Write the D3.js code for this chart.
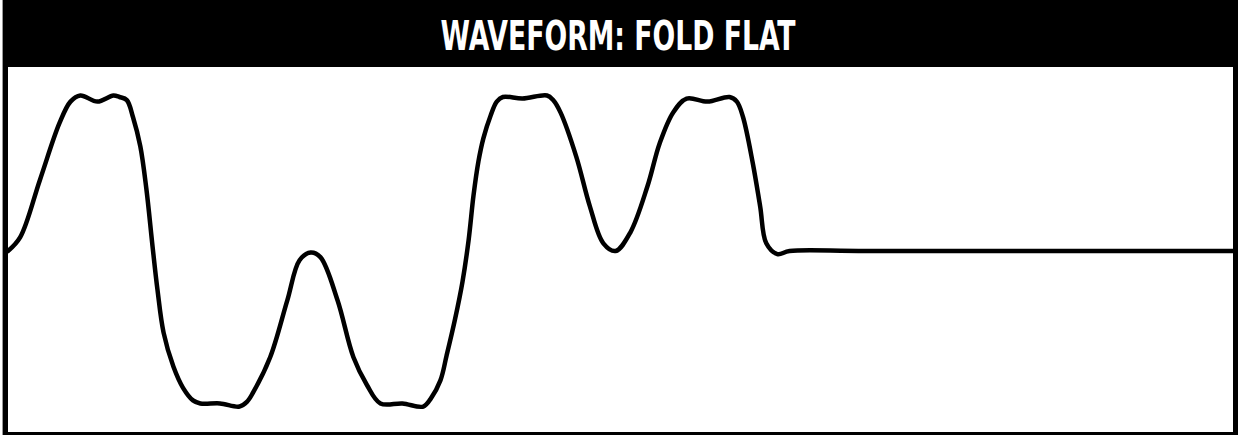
<!DOCTYPE html>
<html>
  <head>
    <meta charset="utf-8">
    <style>
      body { margin: 0; background: #fff; }
      .title {
        fill: #fff;
        font-family: "Liberation Sans Narrow", "DejaVu Sans Condensed", sans-serif;
        font-weight: bold;
        font-size: 40px;
      }
      .wave {
        fill: none;
        stroke: #000;
        stroke-width: 4.5px;
        stroke-linejoin: round;
        stroke-linecap: round;
      }
    </style>
  </head>
  <body>
    <svg width="1238" height="435"></svg>
    <script src="https://d3js.org/d3.v7.min.js"></script>
    <script>
      var titleText = "WAVEFORM: FOLD FLAT";

      // time (0-100) and folded amplitude (-1..1)
      var times = [0, 1.0, 2.6, 4.2, 5.1, 5.9, 7.3, 8.6, 9.1, 9.7, 10.2, 10.8, 11.3, 11.8,
        12.2, 12.7, 13.5, 14.3, 15.1, 15.7, 17.3, 18.9, 19.5, 20.0, 21.4, 22.8, 23.8, 24.7, 25.5,
        26.9, 28.2, 29.3, 30.4, 32.2, 33.9, 34.5, 35.3, 35.8, 36.5, 37.1, 37.6, 38.0, 38.4, 38.8,
        39.4, 39.9, 40.4, 42.0, 44.0, 44.5, 45.1, 46.4, 47.5, 48.6, 49.6, 50.8, 52.2, 53.2, 54.3,
        55.4, 57.1, 58.9, 59.5, 60.0, 60.8, 61.4, 61.9, 62.8, 63.8, 70, 100];
      var amplitude = [0.0, 0.09, 0.46, 0.83, 0.97, 1.01, 0.97, 1.01, 1.00, 0.98, 0.87, 0.68, 0.40, 0.03,
        -0.25, -0.53, -0.75, -0.89, -0.97, -0.99, -0.99, -1.01, -0.98, -0.92, -0.69, -0.32, -0.06, -0.01, -0.04,
        -0.32, -0.69, -0.87, -0.99, -0.99, -1.01, -0.96, -0.84, -0.68, -0.44, -0.20, 0.07, 0.36, 0.58, 0.73,
        0.88, 0.97, 1.00, 0.99, 1.01, 0.98, 0.90, 0.61, 0.29, 0.05, 0.00, 0.12, 0.42, 0.70, 0.90,
        0.99, 0.97, 1.00, 0.97, 0.87, 0.57, 0.29, 0.05, -0.02, 0.00, 0.00, 0.00];

      var svg = d3.select("svg"),
        width = +svg.attr("width"),
        height = +svg.attr("height");

      var headerH = 67, border = 5, left = 3;

      // outer frame + header
      svg.append("rect")
        .attr("x", left).attr("y", 0)
        .attr("width", width - left).attr("height", height)
        .attr("fill", "#000");
      svg.append("rect")
        .attr("x", left + border).attr("y", headerH)
        .attr("width", width - left - 2 * border).attr("height", height - headerH - border + 2)
        .attr("fill", "#fff");
      svg.append("line")
        .attr("x1", left - 0.5).attr("x2", left - 0.5)
        .attr("y1", 0).attr("y2", height)
        .attr("stroke", "#999");

      svg.append("text")
        .attr("class", "title")
        .attr("x", 618).attr("y", 50)
        .attr("text-anchor", "middle")
        .attr("textLength", 355)
        .attr("lengthAdjust", "spacingAndGlyphs")
        .text(titleText);

      var x = d3.scaleLinear().domain([0, 100]).range([left + border, width - border]);
      var y = d3.scaleLinear().domain([-1, 1]).range([405, 97]);

      var data = times.map(function(t, i) { return { t: t, v: amplitude[i] }; });

      var line = d3.line()
        .x(function(d) { return x(d.t); })
        .y(function(d) { return y(d.v); })
        .curve(d3.curveCatmullRom.alpha(0.5));

      svg.append("path")
        .datum(data)
        .attr("class", "wave")
        .attr("d", line);
    </script>
  </body>
</html>
